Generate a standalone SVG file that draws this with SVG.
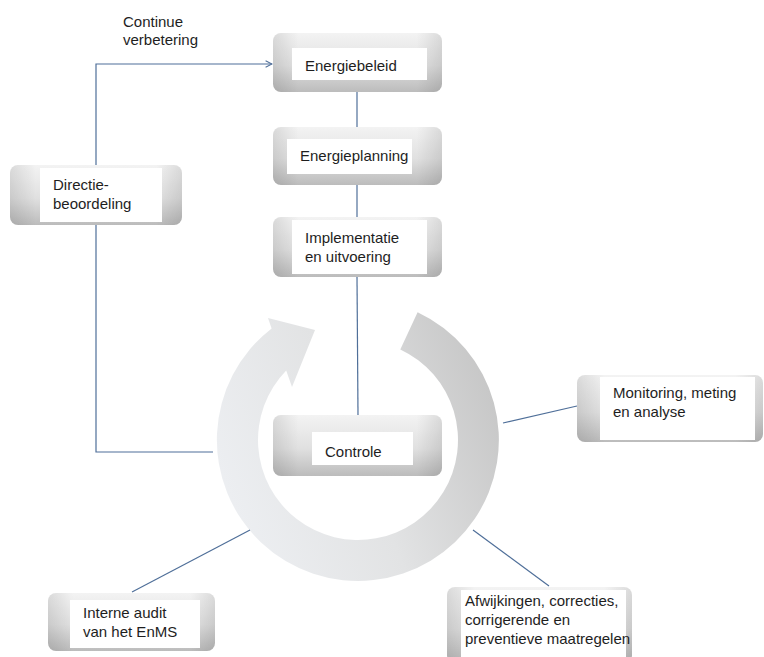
<svg xmlns="http://www.w3.org/2000/svg" width="764" height="657" viewBox="0 0 764 657">
<defs>
<linearGradient id="gv" x1="0" y1="0" x2="0" y2="1">
<stop offset="0" stop-color="#f3f3f3"/>
<stop offset="0.55" stop-color="#e0e0e0"/>
<stop offset="1" stop-color="#bcbcbc"/>
</linearGradient>
<linearGradient id="gh" x1="0" y1="0" x2="1" y2="0">
<stop offset="0" stop-color="#000" stop-opacity="0.10"/>
<stop offset="0.15" stop-color="#000" stop-opacity="0"/>
<stop offset="0.85" stop-color="#000" stop-opacity="0"/>
<stop offset="1" stop-color="#000" stop-opacity="0.10"/>
</linearGradient>
<linearGradient id="ring" gradientUnits="userSpaceOnUse" x1="220" y1="470" x2="500" y2="360">
<stop offset="0" stop-color="#eceef1"/>
<stop offset="0.45" stop-color="#e2e3e4"/>
<stop offset="1" stop-color="#c4c4c4"/>
</linearGradient>
<marker id="arr" viewBox="0 0 10 10" refX="9" refY="5" markerWidth="8" markerHeight="8" markerUnits="userSpaceOnUse" orient="auto">
<path d="M1,1 L9,5 L1,9" fill="none" stroke="#4f6f99" stroke-width="1.3"/>
</marker>
</defs>
<style>
.o{fill:url(#gv)}
.s{fill:url(#gh)}
.w{fill:#ffffff}
.t{font-family:"Liberation Sans",Arial,sans-serif;font-size:15px;fill:#1e1e1e}
.c{fill:none;stroke:#4f6f99;stroke-width:1.2}
</style>
<rect width="764" height="657" fill="#ffffff"/>

<g id="cycle">
<path d="M417.6,312.2 A141,141 0 1 1 271.6,328.4 L268,318 L315,330 L292,387 L286.2,370.4 A100,100 0 1 0 400.3,349.4 Z" fill="url(#ring)"/>
</g>

<g id="connectors">
<path class="c" d="M357,92 V127"/>
<path class="c" d="M357,185 V217"/>
<path class="c" d="M357,277 L358,415"/>
<path class="c" d="M96,165 V64 H272" marker-end="url(#arr)"/>
<path class="c" d="M96,225 V452 H213"/>
<path class="c" d="M503,423 L577,406"/>
<path class="c" d="M132,592 L250,530"/>
<path class="c" d="M473,530 L549,586"/>
</g>

<g id="label-continue">
<text class="t" x="123" y="27">Continue</text>
<text class="t" x="123" y="45">verbetering</text>
</g>

<g id="energiebeleid">
<rect class="o" x="273" y="33" width="169" height="59" rx="8"/>
<rect class="s" x="273" y="33" width="169" height="59" rx="8"/>
<rect class="w" x="292" y="48" width="135" height="32"/>
<text class="t" x="305" y="71">Energiebeleid</text>
</g>

<g id="energieplanning">
<rect class="o" x="273" y="127" width="169" height="58" rx="8"/>
<rect class="s" x="273" y="127" width="169" height="58" rx="8"/>
<rect class="w" x="287" y="139" width="125" height="35"/>
<text class="t" x="300" y="161">Energieplanning</text>
</g>

<g id="implementatie">
<rect class="o" x="273" y="217" width="169" height="60" rx="8"/>
<rect class="s" x="273" y="217" width="169" height="60" rx="8"/>
<rect class="w" x="292" y="220" width="135" height="54"/>
<text class="t" x="305" y="243">Implementatie</text>
<text class="t" x="305" y="262">en uitvoering</text>
</g>

<g id="directie">
<rect class="o" x="10" y="165" width="172" height="60" rx="8"/>
<rect class="s" x="10" y="165" width="172" height="60" rx="8"/>
<rect class="w" x="40" y="168" width="122" height="54"/>
<text class="t" x="53" y="190">Directie-</text>
<text class="t" x="53" y="209">beoordeling</text>
</g>

<g id="controle">
<rect class="o" x="273" y="415" width="169" height="61" rx="8"/>
<rect class="s" x="273" y="415" width="169" height="61" rx="8"/>
<rect class="w" x="312" y="432" width="101" height="33"/>
<text class="t" x="325" y="457">Controle</text>
</g>

<g id="monitoring">
<rect class="o" x="577" y="375" width="186" height="67" rx="8"/>
<rect class="s" x="577" y="375" width="186" height="67" rx="8"/>
<rect class="w" x="600" y="377" width="155" height="63"/>
<text class="t" x="613" y="398">Monitoring, meting</text>
<text class="t" x="613" y="417">en analyse</text>
</g>

<g id="audit">
<rect class="o" x="48" y="593" width="167" height="58" rx="8"/>
<rect class="s" x="48" y="593" width="167" height="58" rx="8"/>
<rect class="w" x="70" y="600" width="130" height="48"/>
<text class="t" x="83" y="618">Interne audit</text>
<text class="t" x="83" y="637">van het EnMS</text>
</g>

<g id="afwijkingen">
<rect class="o" x="447" y="587" width="185" height="76" rx="8"/>
<rect class="s" x="447" y="587" width="185" height="76" rx="8"/>
<rect class="w" x="461" y="590" width="165" height="67"/>
<text class="t" x="465" y="606">Afwijkingen, correcties,</text>
<text class="t" x="465" y="625">corrigerende en</text>
<text class="t" x="465" y="644">preventieve maatregelen</text>
</g>
</svg>
